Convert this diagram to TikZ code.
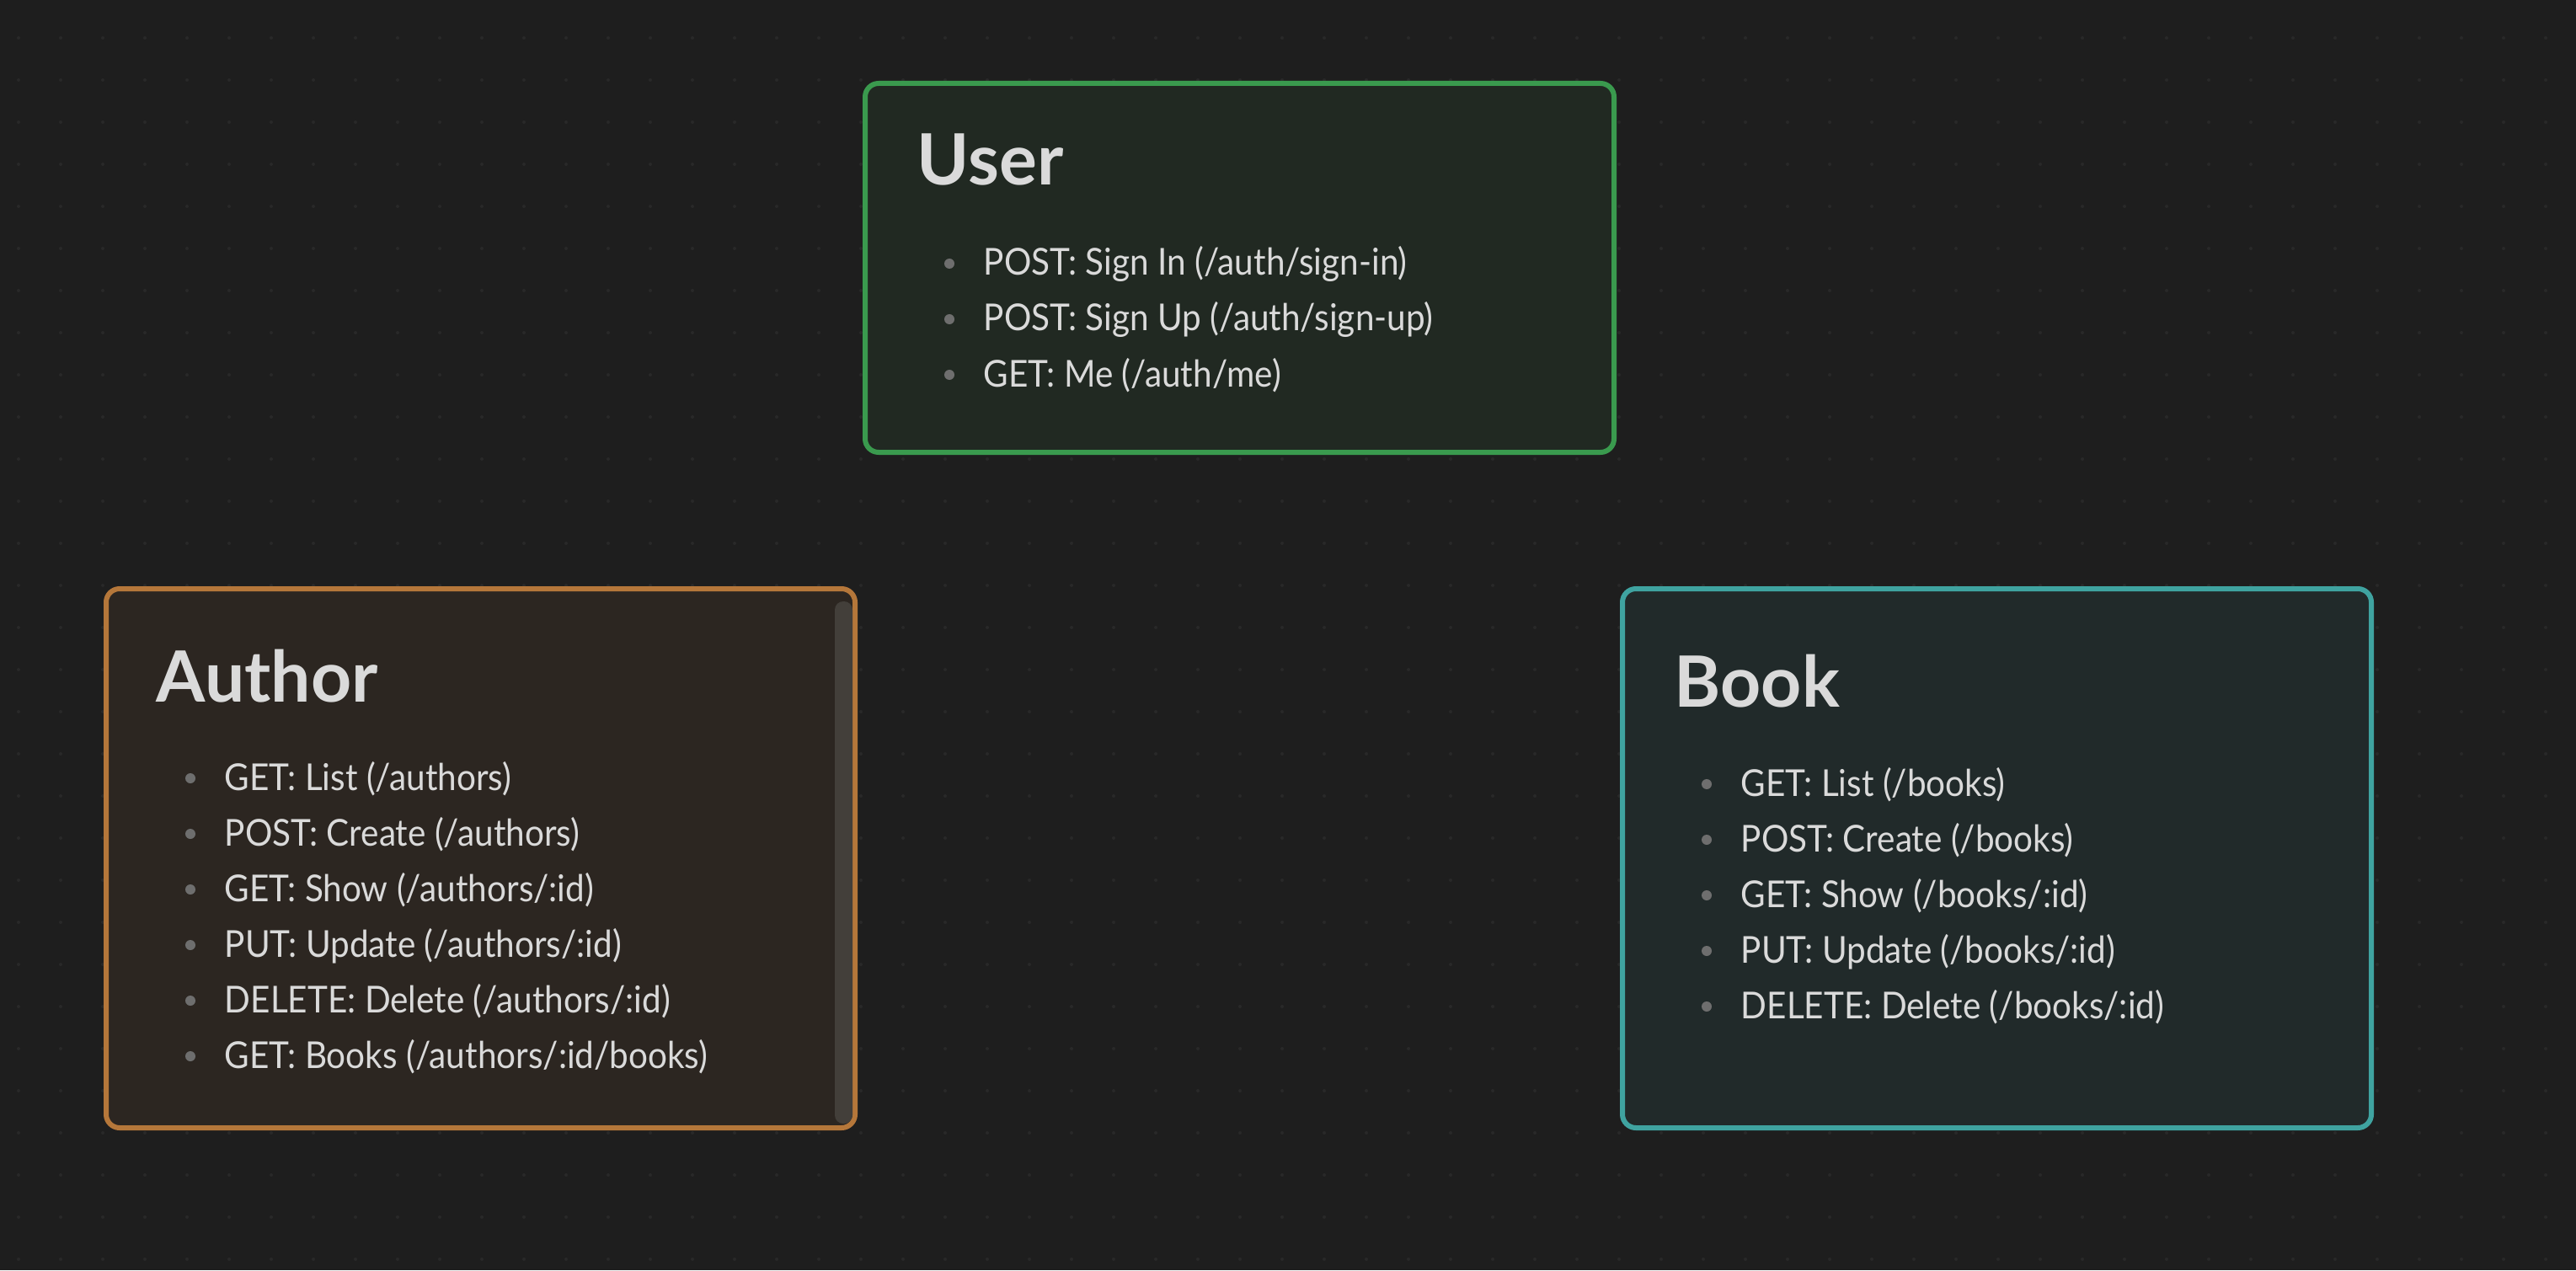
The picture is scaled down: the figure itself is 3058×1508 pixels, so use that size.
\documentclass[tikz,border=0pt]{standalone}
\usepackage{fontspec}
\setmainfont{Lato}
\newfontfamily\cvbody{Lato}[FakeStretch=0.92]
\definecolor{cvBg}{HTML}{1E1E1E}
\definecolor{cvDot}{HTML}{292929}
\definecolor{cvText}{HTML}{DADADA}
\definecolor{cvBullet}{HTML}{6E6E6E}
\definecolor{cvGreen}{HTML}{3A9A4E}
\definecolor{cvOrange}{HTML}{B5773A}
\definecolor{cvTeal}{HTML}{3FA3A0}
\definecolor{cvScroll}{HTML}{433F3A}

\begin{document}
\begin{tikzpicture}[x=0.25pt,y=-0.25pt,
                    card/.style={draw=#1,fill=#1!9!cvBg,line width=1.5pt,
                                 rounded corners=4pt,minimum width=222.25pt},
                    cardtitle/.style={anchor=base west,inner sep=0pt,text=cvText,
                                      font=\fontsize{21}{25}\selectfont\bfseries},
                    entry/.style={anchor=base west,inner sep=0pt,text=cvText,
                                  font=\cvbody\fontsize{11}{13}\selectfont}]
  \useasboundingbox (0,0) rectangle (3058,1508);
  \fill[cvBg] (0,0) rectangle (3058,1508);
  % dotted canvas
  \foreach \gx in {22,72,...,3058}
    \foreach \gy in {45,95,...,1508}
      \fill[cvDot] (\gx,\gy) circle (2);

  % cards
  \node[card=cvGreen,minimum height=109.5pt] (user) at (1471.5,318) {};
  \node[card=cvOrange,minimum height=160pt] (author) at (570.5,1019) {};
  \node[card=cvTeal,minimum height=160pt] (book) at (2370.5,1019) {};
  \fill[cvScroll,rounded corners=2.5pt] ([shift={(-27,18)}]author.north east)
    rectangle ([shift={(-6,-8)}]author.south east);

  % titles
  \node[cardtitle] (usertitle) at ([shift={(64,124)}]user.north west) {User};
  \node[cardtitle] (authortitle) at ([shift={(62,137)}]author.north west) {Author};
  \node[cardtitle] (booktitle) at ([shift={(64,143)}]book.north west) {Book};

  % endpoints
  \foreach \txt [count=\i] in {POST: Sign In (/auth/sign-in),
                               POST: Sign Up (/auth/sign-up),
                               GET: Me (/auth/me)} {
    \node[entry] (user-\i) at ([shift={(143,165+66*\i)}]user.north west) {\txt};
    \fill[cvBullet] ([shift={(-40,-14)}]user-\i.base west) circle (6);
  }
  \foreach \txt [count=\i] in {GET: List (/authors),
                               POST: Create (/authors),
                               GET: Show (/authors/:id),
                               PUT: Update (/authors/:id),
                               DELETE: Delete (/authors/:id),
                               GET: Books (/authors/:id/books)} {
    \node[entry] (author-\i) at ([shift={(143,176+66*\i)}]author.north west) {\txt};
    \fill[cvBullet] ([shift={(-40,-14)}]author-\i.base west) circle (6);
  }
  \foreach \txt [count=\i] in {GET: List (/books),
                               POST: Create (/books),
                               GET: Show (/books/:id),
                               PUT: Update (/books/:id),
                               DELETE: Delete (/books/:id)} {
    \node[entry] (book-\i) at ([shift={(143,183+66*\i)}]book.north west) {\txt};
    \fill[cvBullet] ([shift={(-40,-14)}]book-\i.base west) circle (6);
  }
\end{tikzpicture}
\end{document}
